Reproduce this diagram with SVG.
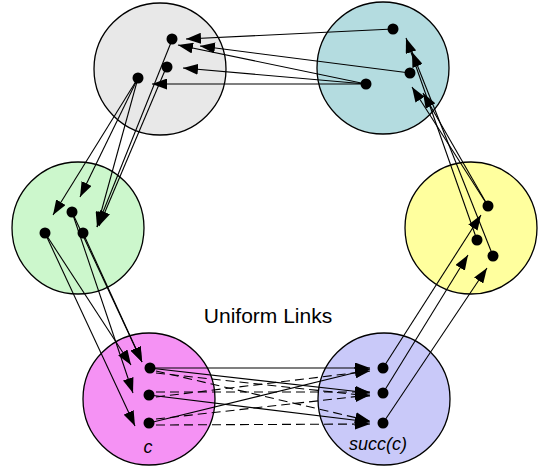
<svg xmlns="http://www.w3.org/2000/svg" width="548" height="475" viewBox="0 0 548 475">
<style>
.ring{stroke:#000;stroke-width:1.3}
.dot{fill:#000}
.ln{stroke:#000;stroke-width:1.1;fill:none;marker-end:url(#ah)}
.dash{stroke-dasharray:9 5}
.lbl{font-family:"Liberation Sans",Arial,sans-serif;fill:#000}
.it{font-style:italic;font-size:18px;text-anchor:middle}
</style>
<defs>
<marker id="ah" markerUnits="userSpaceOnUse" markerWidth="15" markerHeight="11" refX="15" refY="5.5" orient="auto">
<path d="M0,0 L15,5.5 L0,11 z" fill="#000"/>
</marker>
</defs>
<rect width="548" height="475" fill="#fff"/>
<g id="node-gray"><circle class="ring" cx="160" cy="69" r="66" fill="#e8e8e8"/></g>
<g id="node-teal"><circle class="ring" cx="383" cy="68" r="66" fill="#b4dce0"/></g>
<g id="node-green"><circle class="ring" cx="78" cy="228" r="66" fill="#ccf7cc"/></g>
<g id="node-yellow"><circle class="ring" cx="471" cy="228" r="66" fill="#ffff9e"/></g>
<g id="node-c"><circle class="ring" cx="149" cy="399" r="66" fill="#f592f4"/><text class="lbl it" x="148" y="453">c</text></g>
<g id="node-succ"><circle class="ring" cx="384" cy="399" r="66" fill="#c9c9f9"/><text class="lbl it" x="378" y="450">succ(c)</text></g>
<g id="connectors">
<line class="ln" x1="393" y1="29" x2="186" y2="39"/>
<line class="ln" x1="410" y1="73" x2="200" y2="46"/>
<line class="ln" x1="366" y1="84" x2="178" y2="45"/>
<line class="ln" x1="366" y1="84" x2="183" y2="68"/>
<line class="ln" x1="366" y1="84" x2="152" y2="84"/>
<line class="ln" x1="138" y1="78" x2="53" y2="215"/>
<line class="ln" x1="138" y1="78" x2="80" y2="197"/>
<line class="ln" x1="138" y1="78" x2="97" y2="227"/>
<line class="ln" x1="172" y1="40" x2="97" y2="227"/>
<line class="ln" x1="166" y1="68" x2="99" y2="226"/>
<line class="ln" x1="45" y1="233" x2="131" y2="365"/>
<line class="ln" x1="83" y1="233" x2="142" y2="362"/>
<line class="ln" x1="72" y1="212" x2="133" y2="393"/>
<line class="ln" x1="45" y1="233" x2="135" y2="426"/>
<line class="ln" x1="72" y1="212" x2="142" y2="362"/>
<line class="ln" x1="149" y1="368" x2="370" y2="368"/>
<line class="ln" x1="149" y1="368" x2="370" y2="393"/>
<line class="ln" x1="149" y1="395" x2="370" y2="422"/>
<line class="ln" x1="149" y1="423" x2="370" y2="369"/>
<line class="ln dash" x1="156" y1="371" x2="370" y2="421"/>
<line class="ln dash" x1="156" y1="397" x2="370" y2="371"/>
<line class="ln dash" x1="156" y1="392" x2="370" y2="392"/>
<line class="ln dash" x1="156" y1="419" x2="370" y2="395"/>
<line class="ln dash" x1="156" y1="425" x2="370" y2="424"/>
<line class="ln dash" x1="156" y1="373" x2="370" y2="396"/>
<line class="ln" x1="383" y1="368" x2="481" y2="215"/>
<line class="ln" x1="383" y1="393" x2="468" y2="255"/>
<line class="ln" x1="383" y1="423" x2="487" y2="268"/>
<line class="ln" x1="477" y1="240" x2="406" y2="38"/>
<line class="ln" x1="493" y1="256" x2="412" y2="52"/>
<line class="ln" x1="488" y1="206" x2="412" y2="87"/>
<line class="ln" x1="488" y1="206" x2="423" y2="93"/>
</g>
<g id="dots">
<circle class="dot" cx="172" cy="39" r="5.5"/><circle class="dot" cx="167" cy="67" r="5.5"/><circle class="dot" cx="138" cy="78" r="5.5"/>
<circle class="dot" cx="393" cy="29" r="5.5"/><circle class="dot" cx="410" cy="73" r="5.5"/><circle class="dot" cx="366" cy="84" r="5.5"/>
<circle class="dot" cx="72" cy="212" r="5.5"/><circle class="dot" cx="45" cy="233" r="5.5"/><circle class="dot" cx="83" cy="233" r="5.5"/>
<circle class="dot" cx="488" cy="206" r="5.5"/><circle class="dot" cx="477" cy="240" r="5.5"/><circle class="dot" cx="493" cy="256" r="5.5"/>
<circle class="dot" cx="150" cy="368" r="5.5"/><circle class="dot" cx="149" cy="395" r="5.5"/><circle class="dot" cx="149" cy="423" r="5.5"/>
<circle class="dot" cx="383" cy="368" r="5.5"/><circle class="dot" cx="383" cy="393" r="5.5"/><circle class="dot" cx="383" cy="423" r="5.5"/>
</g>
<text class="lbl" x="268" y="323" font-size="21" text-anchor="middle">Uniform Links</text>
</svg>
